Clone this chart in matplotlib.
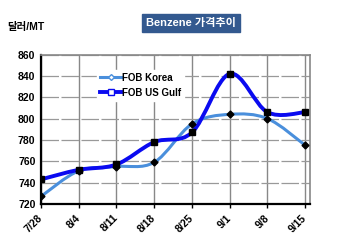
import numpy as np
import matplotlib.pyplot as plt
from matplotlib.path import Path
from matplotlib.patches import PathPatch
from matplotlib.lines import Line2D

plt.rcParams['font.family'] = ['Liberation Sans', 'Noto Sans CJK KR', 'DejaVu Sans']

dates = ['7/28', '8/4', '8/11', '8/18', '8/25', '9/1', '9/8', '9/15']
fob_korea = [727, 751, 755, 759, 795, 804, 800, 775]
fob_usgulf = [743, 752, 757, 778, 787, 842, 806, 806]
yticks = [720, 740, 760, 780, 800, 820, 840, 860]

korea_color = '#4a8fdc'
gulf_color = '#0a0af0'


# smooth curve through points (Catmull-Rom as cubic bezier), like Excel's smoothed line
def smooth_path(xs, ys):
    pts = np.column_stack([xs, ys]).astype(float)
    verts = [pts[0]]
    codes = [Path.MOVETO]
    n = len(pts)
    for i in range(n - 1):
        p0 = pts[max(i - 1, 0)]
        p1 = pts[i]
        p2 = pts[i + 1]
        p3 = pts[min(i + 2, n - 1)]
        c1 = p1 + (p2 - p0) / 6.0
        c2 = p2 - (p3 - p1) / 6.0
        verts += [c1, c2, p2]
        codes += [Path.CURVE4] * 3
    return Path(verts, codes)


fig = plt.figure(figsize=(3.5, 2.46), dpi=100)
ax = fig.add_axes([0.117, 0.171, 0.769, 0.607])

x = np.arange(len(dates))

ax.add_patch(PathPatch(smooth_path(x, fob_korea), fill=False, edgecolor=korea_color,
                       lw=2.2, capstyle='round', zorder=3))
ax.add_patch(PathPatch(smooth_path(x, fob_usgulf), fill=False, edgecolor=gulf_color,
                       lw=2.8, capstyle='round', zorder=4))

ax.plot(x, fob_korea, ls='none', marker='D', ms=3.5, color='black', zorder=5)
ax.plot(x, fob_usgulf, ls='none', marker='s', ms=5, color='black', zorder=5)

ax.set_xlim(0, 7.13)
ax.set_ylim(720, 860)
ax.set_xticks(x)
ax.set_xticklabels(dates, rotation=45, ha='right', va='center', rotation_mode='anchor')
ax.set_yticks(yticks)

for lab in ax.get_xticklabels() + ax.get_yticklabels():
    lab.set_fontweight('bold')
    lab.set_fontsize(7.5)

ax.tick_params(axis='x', length=3, width=1, direction='out', pad=6)
ax.tick_params(axis='y', length=0, pad=4)

ax.grid(axis='x', color='#888888', lw=1)
ax.grid(axis='y', color='#999999', lw=0.9, ls=(0, (14, 2)))
ax.set_axisbelow(True)

for s in ['left', 'bottom']:
    ax.spines[s].set_linewidth(1.6)
    ax.spines[s].set_color('black')
for s in ['top', 'right']:
    ax.spines[s].set_linewidth(1.2)
    ax.spines[s].set_color('#888888')

handles = [
    Line2D([], [], color=korea_color, lw=2.2, marker='D', ms=3, mfc='white', mec=korea_color),
    Line2D([], [], color=gulf_color, lw=2.8, marker='s', ms=4.5, mfc='white', mec=gulf_color),
]
leg = ax.legend(handles, ['FOB Korea', 'FOB US Gulf'], loc='upper left',
                bbox_to_anchor=(0.19, 0.93), frameon=True, fancybox=False,
                edgecolor='white', framealpha=1, handlelength=2.2, handletextpad=0.1,
                borderpad=0.3, labelspacing=0.5, prop={'weight': 'bold', 'size': 7})

fig.text(0.02, 0.89, '달러/MT', fontsize=7.5, fontweight='bold', ha='left', va='center')
fig.text(0.545, 0.905, 'Benzene 가격추이', fontsize=8, fontweight='bold', color='white',
         ha='center', va='center',
         bbox=dict(boxstyle='square,pad=0.35', fc='#33598f', ec='#33598f'))

plt.savefig('out.png', dpi=100)
plt.close()
